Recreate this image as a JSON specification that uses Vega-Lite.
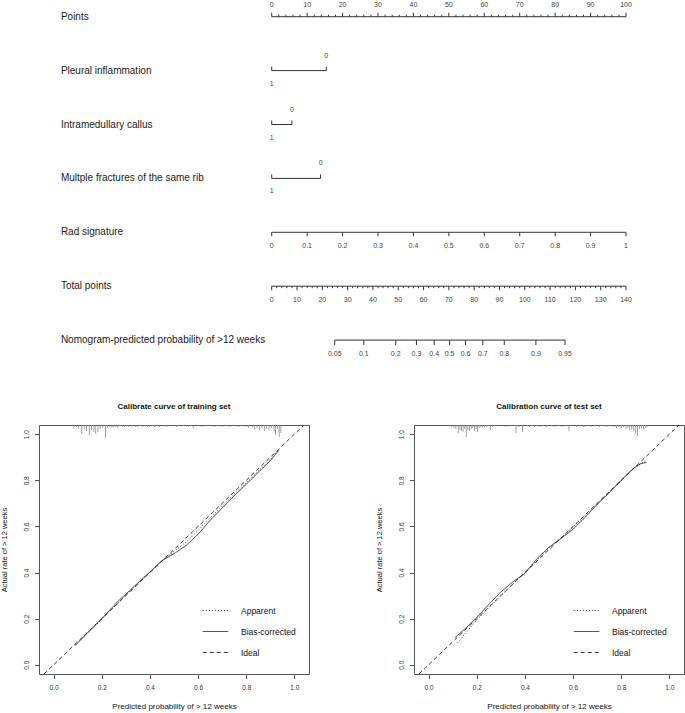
{
"$schema":"https://vega.github.io/schema/vega-lite/v6.json",
"padding":0,
"spacing":12,
"config":{"font":"Liberation Sans","view":{"stroke":null}},
"datasets":{
"rows":[{"row":0,"name":"Points"},{"row":1,"name":"Pleural inflammation"},{"row":2,"name":"Intramedullary callus"},{"row":3,"name":"Multple fractures of the same rib"},{"row":4,"name":"Rad signature"},{"row":5,"name":"Total points"},{"row":6,"name":"Nomogram-predicted probability of >12 weeks"}],
"pAxes":[{"row":0,"from":0,"to":100},{"row":1,"from":0,"to":15.4},{"row":2,"from":0,"to":5.7},{"row":3,"from":0,"to":13.8}],
"pMajor":[{"row":0,"v":0,"t":"0"},{"row":0,"v":10,"t":"10"},{"row":0,"v":20,"t":"20"},{"row":0,"v":30,"t":"30"},{"row":0,"v":40,"t":"40"},{"row":0,"v":50,"t":"50"},{"row":0,"v":60,"t":"60"},{"row":0,"v":70,"t":"70"},{"row":0,"v":80,"t":"80"},{"row":0,"v":90,"t":"90"},{"row":0,"v":100,"t":"100"}],
"pMinor":[{"row":0,"v":2},{"row":0,"v":4},{"row":0,"v":6},{"row":0,"v":8},{"row":0,"v":12},{"row":0,"v":14},{"row":0,"v":16},{"row":0,"v":18},{"row":0,"v":22},{"row":0,"v":24},{"row":0,"v":26},{"row":0,"v":28},{"row":0,"v":32},{"row":0,"v":34},{"row":0,"v":36},{"row":0,"v":38},{"row":0,"v":42},{"row":0,"v":44},{"row":0,"v":46},{"row":0,"v":48},{"row":0,"v":52},{"row":0,"v":54},{"row":0,"v":56},{"row":0,"v":58},{"row":0,"v":62},{"row":0,"v":64},{"row":0,"v":66},{"row":0,"v":68},{"row":0,"v":72},{"row":0,"v":74},{"row":0,"v":76},{"row":0,"v":78},{"row":0,"v":82},{"row":0,"v":84},{"row":0,"v":86},{"row":0,"v":88},{"row":0,"v":92},{"row":0,"v":94},{"row":0,"v":96},{"row":0,"v":98}],
"binary":[{"row":1,"v":15.4,"t":"0"},{"row":1,"v":0,"t":"1"},{"row":2,"v":5.7,"t":"0"},{"row":2,"v":0,"t":"1"},{"row":3,"v":13.8,"t":"0"},{"row":3,"v":0,"t":"1"}],
"radAxis":[{"row":4,"from":0,"to":1}],
"rad":[{"row":4,"v":0,"t":"0"},{"row":4,"v":0.1,"t":"0.1"},{"row":4,"v":0.2,"t":"0.2"},{"row":4,"v":0.3,"t":"0.3"},{"row":4,"v":0.4,"t":"0.4"},{"row":4,"v":0.5,"t":"0.5"},{"row":4,"v":0.6,"t":"0.6"},{"row":4,"v":0.7,"t":"0.7"},{"row":4,"v":0.8,"t":"0.8"},{"row":4,"v":0.9,"t":"0.9"},{"row":4,"v":1,"t":"1"}],
"tAxes":[{"row":5,"from":0,"to":140},{"row":6,"from":24.9,"to":115.9}],
"total":[{"row":5,"v":0,"t":"0"},{"row":5,"v":10,"t":"10"},{"row":5,"v":20,"t":"20"},{"row":5,"v":30,"t":"30"},{"row":5,"v":40,"t":"40"},{"row":5,"v":50,"t":"50"},{"row":5,"v":60,"t":"60"},{"row":5,"v":70,"t":"70"},{"row":5,"v":80,"t":"80"},{"row":5,"v":90,"t":"90"},{"row":5,"v":100,"t":"100"},{"row":5,"v":110,"t":"110"},{"row":5,"v":120,"t":"120"},{"row":5,"v":130,"t":"130"},{"row":5,"v":140,"t":"140"}],
"totalMinor":[{"row":5,"v":2},{"row":5,"v":4},{"row":5,"v":6},{"row":5,"v":8},{"row":5,"v":12},{"row":5,"v":14},{"row":5,"v":16},{"row":5,"v":18},{"row":5,"v":22},{"row":5,"v":24},{"row":5,"v":26},{"row":5,"v":28},{"row":5,"v":32},{"row":5,"v":34},{"row":5,"v":36},{"row":5,"v":38},{"row":5,"v":42},{"row":5,"v":44},{"row":5,"v":46},{"row":5,"v":48},{"row":5,"v":52},{"row":5,"v":54},{"row":5,"v":56},{"row":5,"v":58},{"row":5,"v":62},{"row":5,"v":64},{"row":5,"v":66},{"row":5,"v":68},{"row":5,"v":72},{"row":5,"v":74},{"row":5,"v":76},{"row":5,"v":78},{"row":5,"v":82},{"row":5,"v":84},{"row":5,"v":86},{"row":5,"v":88},{"row":5,"v":92},{"row":5,"v":94},{"row":5,"v":96},{"row":5,"v":98},{"row":5,"v":102},{"row":5,"v":104},{"row":5,"v":106},{"row":5,"v":108},{"row":5,"v":112},{"row":5,"v":114},{"row":5,"v":116},{"row":5,"v":118},{"row":5,"v":122},{"row":5,"v":124},{"row":5,"v":126},{"row":5,"v":128},{"row":5,"v":132},{"row":5,"v":134},{"row":5,"v":136},{"row":5,"v":138}],
"prob":[{"row":6,"v":24.9,"t":"0.05"},{"row":6,"v":36.4,"t":"0.1"},{"row":6,"v":49.0,"t":"0.2"},{"row":6,"v":57.2,"t":"0.3"},{"row":6,"v":64.2,"t":"0.4"},{"row":6,"v":70.3,"t":"0.5"},{"row":6,"v":76.6,"t":"0.6"},{"row":6,"v":83.4,"t":"0.7"},{"row":6,"v":91.9,"t":"0.8"},{"row":6,"v":104.4,"t":"0.9"},{"row":6,"v":115.9,"t":"0.95"}],
"trainCurve":[
{"series":"Apparent","p":0.09,"a":0.088},{"series":"Apparent","p":0.12,"a":0.118},{"series":"Apparent","p":0.15,"a":0.148},{"series":"Apparent","p":0.2,"a":0.198},{"series":"Apparent","p":0.25,"a":0.25},{"series":"Apparent","p":0.3,"a":0.302},{"series":"Apparent","p":0.35,"a":0.352},{"series":"Apparent","p":0.4,"a":0.403},{"series":"Apparent","p":0.45,"a":0.45},{"series":"Apparent","p":0.5,"a":0.492},{"series":"Apparent","p":0.55,"a":0.532},{"series":"Apparent","p":0.6,"a":0.583},{"series":"Apparent","p":0.65,"a":0.637},{"series":"Apparent","p":0.7,"a":0.688},{"series":"Apparent","p":0.75,"a":0.74},{"series":"Apparent","p":0.8,"a":0.79},{"series":"Apparent","p":0.85,"a":0.84},{"series":"Apparent","p":0.9,"a":0.89},{"series":"Apparent","p":0.935,"a":0.933},
{"series":"Bias-corrected","p":0.09,"a":0.084},{"series":"Bias-corrected","p":0.12,"a":0.116},{"series":"Bias-corrected","p":0.15,"a":0.148},{"series":"Bias-corrected","p":0.2,"a":0.2},{"series":"Bias-corrected","p":0.25,"a":0.256},{"series":"Bias-corrected","p":0.27,"a":0.278},{"series":"Bias-corrected","p":0.3,"a":0.306},{"series":"Bias-corrected","p":0.35,"a":0.355},{"series":"Bias-corrected","p":0.4,"a":0.402},{"series":"Bias-corrected","p":0.45,"a":0.452},{"series":"Bias-corrected","p":0.5,"a":0.482},{"series":"Bias-corrected","p":0.55,"a":0.517},{"series":"Bias-corrected","p":0.6,"a":0.566},{"series":"Bias-corrected","p":0.65,"a":0.626},{"series":"Bias-corrected","p":0.7,"a":0.68},{"series":"Bias-corrected","p":0.75,"a":0.733},{"series":"Bias-corrected","p":0.8,"a":0.783},{"series":"Bias-corrected","p":0.85,"a":0.834},{"series":"Bias-corrected","p":0.9,"a":0.885},{"series":"Bias-corrected","p":0.935,"a":0.93},
{"series":"Ideal","p":-0.04,"a":-0.04},{"series":"Ideal","p":1.04,"a":1.04}],
"testCurve":[
{"series":"Apparent","p":0.12,"a":0.095},{"series":"Apparent","p":0.15,"a":0.133},{"series":"Apparent","p":0.2,"a":0.195},{"series":"Apparent","p":0.25,"a":0.247},{"series":"Apparent","p":0.3,"a":0.3},{"series":"Apparent","p":0.35,"a":0.35},{"series":"Apparent","p":0.4,"a":0.4},{"series":"Apparent","p":0.45,"a":0.455},{"series":"Apparent","p":0.5,"a":0.505},{"series":"Apparent","p":0.55,"a":0.55},{"series":"Apparent","p":0.6,"a":0.598},{"series":"Apparent","p":0.65,"a":0.648},{"series":"Apparent","p":0.7,"a":0.7},{"series":"Apparent","p":0.75,"a":0.75},{"series":"Apparent","p":0.8,"a":0.8},{"series":"Apparent","p":0.85,"a":0.85},{"series":"Apparent","p":0.88,"a":0.872},{"series":"Apparent","p":0.9,"a":0.882},
{"series":"Bias-corrected","p":0.11,"a":0.118},{"series":"Bias-corrected","p":0.15,"a":0.155},{"series":"Bias-corrected","p":0.2,"a":0.205},{"series":"Bias-corrected","p":0.25,"a":0.262},{"series":"Bias-corrected","p":0.3,"a":0.316},{"series":"Bias-corrected","p":0.35,"a":0.36},{"series":"Bias-corrected","p":0.4,"a":0.396},{"series":"Bias-corrected","p":0.45,"a":0.46},{"series":"Bias-corrected","p":0.5,"a":0.51},{"series":"Bias-corrected","p":0.55,"a":0.548},{"series":"Bias-corrected","p":0.6,"a":0.588},{"series":"Bias-corrected","p":0.65,"a":0.64},{"series":"Bias-corrected","p":0.7,"a":0.695},{"series":"Bias-corrected","p":0.75,"a":0.746},{"series":"Bias-corrected","p":0.8,"a":0.8},{"series":"Bias-corrected","p":0.85,"a":0.852},{"series":"Bias-corrected","p":0.88,"a":0.872},{"series":"Bias-corrected","p":0.905,"a":0.878},
{"series":"Ideal","p":-0.04,"a":-0.04},{"series":"Ideal","p":1.04,"a":1.04}],
"trainRug":[{"p":0.084,"n":3},{"p":0.095,"n":2},{"p":0.104,"n":4},{"p":0.117,"n":9},{"p":0.127,"n":4},{"p":0.137,"n":6},{"p":0.148,"n":10},{"p":0.157,"n":5},{"p":0.167,"n":7},{"p":0.175,"n":9},{"p":0.184,"n":7},{"p":0.193,"n":4},{"p":0.204,"n":3},{"p":0.215,"n":13},{"p":0.224,"n":3},{"p":0.233,"n":2},{"p":0.242,"n":3},{"p":0.25,"n":2},{"p":0.258,"n":2},{"p":0.267,"n":3},{"p":0.276,"n":1},{"p":0.285,"n":2},{"p":0.294,"n":2},{"p":0.303,"n":1},{"p":0.312,"n":2},{"p":0.322,"n":2},{"p":0.33,"n":1},{"p":0.34,"n":2},{"p":0.35,"n":2},{"p":0.36,"n":1},{"p":0.37,"n":2},{"p":0.38,"n":1},{"p":0.39,"n":2},{"p":0.4,"n":2},{"p":0.41,"n":1},{"p":0.42,"n":2},{"p":0.43,"n":1},{"p":0.44,"n":2},{"p":0.46,"n":1},{"p":0.47,"n":2},{"p":0.48,"n":1},{"p":0.5,"n":1},{"p":0.51,"n":2},{"p":0.52,"n":1},{"p":0.54,"n":1},{"p":0.56,"n":2},{"p":0.57,"n":1},{"p":0.58,"n":3},{"p":0.6,"n":1},{"p":0.62,"n":2},{"p":0.63,"n":1},{"p":0.65,"n":1},{"p":0.67,"n":2},{"p":0.68,"n":1},{"p":0.7,"n":2},{"p":0.72,"n":1},{"p":0.73,"n":2},{"p":0.75,"n":1},{"p":0.77,"n":2},{"p":0.78,"n":1},{"p":0.8,"n":2},{"p":0.81,"n":3},{"p":0.825,"n":2},{"p":0.835,"n":4},{"p":0.845,"n":3},{"p":0.855,"n":5},{"p":0.865,"n":3},{"p":0.875,"n":6},{"p":0.885,"n":4},{"p":0.895,"n":5},{"p":0.905,"n":3},{"p":0.915,"n":6},{"p":0.922,"n":10},{"p":0.93,"n":4},{"p":0.937,"n":12},{"p":0.944,"n":8}],
"testRug":[{"p":0.096,"n":2},{"p":0.105,"n":3},{"p":0.113,"n":4},{"p":0.123,"n":8},{"p":0.13,"n":5},{"p":0.137,"n":6},{"p":0.143,"n":7},{"p":0.15,"n":4},{"p":0.156,"n":12},{"p":0.163,"n":5},{"p":0.17,"n":6},{"p":0.177,"n":4},{"p":0.183,"n":3},{"p":0.19,"n":6},{"p":0.197,"n":4},{"p":0.203,"n":7},{"p":0.21,"n":3},{"p":0.217,"n":2},{"p":0.225,"n":3},{"p":0.233,"n":2},{"p":0.24,"n":2},{"p":0.248,"n":1},{"p":0.256,"n":5},{"p":0.265,"n":2},{"p":0.273,"n":1},{"p":0.282,"n":1},{"p":0.3,"n":1},{"p":0.32,"n":2},{"p":0.34,"n":1},{"p":0.356,"n":1},{"p":0.363,"n":8},{"p":0.375,"n":2},{"p":0.39,"n":7},{"p":0.41,"n":1},{"p":0.42,"n":2},{"p":0.43,"n":1},{"p":0.44,"n":2},{"p":0.45,"n":1},{"p":0.463,"n":2},{"p":0.475,"n":1},{"p":0.49,"n":2},{"p":0.51,"n":1},{"p":0.525,"n":2},{"p":0.54,"n":1},{"p":0.555,"n":2},{"p":0.57,"n":1},{"p":0.583,"n":6},{"p":0.6,"n":1},{"p":0.615,"n":2},{"p":0.63,"n":1},{"p":0.645,"n":2},{"p":0.66,"n":1},{"p":0.675,"n":2},{"p":0.69,"n":1},{"p":0.71,"n":2},{"p":0.725,"n":1},{"p":0.74,"n":2},{"p":0.755,"n":1},{"p":0.77,"n":2},{"p":0.78,"n":3},{"p":0.79,"n":2},{"p":0.8,"n":3},{"p":0.81,"n":2},{"p":0.82,"n":4},{"p":0.828,"n":3},{"p":0.836,"n":5},{"p":0.844,"n":4},{"p":0.852,"n":6},{"p":0.86,"n":9},{"p":0.868,"n":11},{"p":0.876,"n":4},{"p":0.884,"n":3},{"p":0.893,"n":4},{"p":0.902,"n":3},{"p":0.91,"n":2}]
},
"vconcat":[
{
"width":646,"height":390,
"resolve":{"scale":{"x":"independent"}},
"layer":[
{"data":{"name":"rows"},"mark":{"type":"text","align":"left","baseline":"middle","fontSize":10,"color":"#1a1a1a"},
 "encoding":{"x":{"datum":-59.5,"type":"quantitative","scale":{"domain":[-65.68,116.65],"nice":false,"zero":false},"axis":null},
 "y":{"field":"row","type":"quantitative","scale":{"domain":[-0.31,6.926],"reverse":true,"nice":false,"zero":false},"axis":null},
 "text":{"field":"name"}}},
{"data":{"name":"pAxes"},"mark":{"type":"rule","color":"#333","strokeWidth":1},
 "encoding":{"x":{"field":"from","type":"quantitative","scale":{"domain":[-65.68,116.65],"nice":false,"zero":false},"axis":null},"x2":{"field":"to"},
 "y":{"field":"row","type":"quantitative","scale":{"domain":[-0.31,6.926],"reverse":true,"nice":false,"zero":false},"axis":null}}},
{"data":{"name":"pMajor"},"mark":{"type":"rule","color":"#333","strokeWidth":1,"y2Offset":-4},
 "encoding":{"x":{"field":"v","type":"quantitative","scale":{"domain":[-65.68,116.65],"nice":false,"zero":false},"axis":null},
 "y":{"field":"row","type":"quantitative","scale":{"domain":[-0.31,6.926],"reverse":true,"nice":false,"zero":false},"axis":null},"y2":{"field":"row"}}},
{"data":{"name":"pMinor"},"mark":{"type":"rule","color":"#333","strokeWidth":1,"y2Offset":-2},
 "encoding":{"x":{"field":"v","type":"quantitative","scale":{"domain":[-65.68,116.65],"nice":false,"zero":false},"axis":null},
 "y":{"field":"row","type":"quantitative","scale":{"domain":[-0.31,6.926],"reverse":true,"nice":false,"zero":false},"axis":null},"y2":{"field":"row"}}},
{"data":{"name":"pMajor"},"mark":{"type":"text","fontSize":7,"fill":"#444","baseline":"middle","dy":-12},
 "encoding":{"x":{"field":"v","type":"quantitative","scale":{"domain":[-65.68,116.65],"nice":false,"zero":false},"axis":null},
 "y":{"field":"row","type":"quantitative","scale":{"domain":[-0.31,6.926],"reverse":true,"nice":false,"zero":false},"axis":null},"text":{"field":"t"}}},
{"data":{"name":"binary"},"mark":{"type":"rule","color":"#333","strokeWidth":1,"y2Offset":-4},
 "encoding":{"x":{"field":"v","type":"quantitative","scale":{"domain":[-65.68,116.65],"nice":false,"zero":false},"axis":null},
 "y":{"field":"row","type":"quantitative","scale":{"domain":[-0.31,6.926],"reverse":true,"nice":false,"zero":false},"axis":null},"y2":{"field":"row"}}},
{"data":{"name":"binary"},"transform":[{"filter":"datum.t == '0'"}],"mark":{"type":"text","fontSize":7,"fill":"#444","baseline":"middle","dy":-15},
 "encoding":{"x":{"field":"v","type":"quantitative","scale":{"domain":[-65.68,116.65],"nice":false,"zero":false},"axis":null},
 "y":{"field":"row","type":"quantitative","scale":{"domain":[-0.31,6.926],"reverse":true,"nice":false,"zero":false},"axis":null},"text":{"field":"t"}}},
{"data":{"name":"binary"},"transform":[{"filter":"datum.t == '1'"}],"mark":{"type":"text","fontSize":7,"fill":"#444","baseline":"middle","dy":13},
 "encoding":{"x":{"field":"v","type":"quantitative","scale":{"domain":[-65.68,116.65],"nice":false,"zero":false},"axis":null},
 "y":{"field":"row","type":"quantitative","scale":{"domain":[-0.31,6.926],"reverse":true,"nice":false,"zero":false},"axis":null},"text":{"field":"t"}}},
{"data":{"name":"radAxis"},"mark":{"type":"rule","color":"#333","strokeWidth":1},
 "encoding":{"x":{"field":"from","type":"quantitative","scale":{"domain":[-0.6568,1.1665],"nice":false,"zero":false},"axis":null},"x2":{"field":"to"},
 "y":{"field":"row","type":"quantitative","scale":{"domain":[-0.31,6.926],"reverse":true,"nice":false,"zero":false},"axis":null}}},
{"data":{"name":"rad"},"mark":{"type":"rule","color":"#333","strokeWidth":1,"y2Offset":4},
 "encoding":{"x":{"field":"v","type":"quantitative","scale":{"domain":[-0.6568,1.1665],"nice":false,"zero":false},"axis":null},
 "y":{"field":"row","type":"quantitative","scale":{"domain":[-0.31,6.926],"reverse":true,"nice":false,"zero":false},"axis":null},"y2":{"field":"row"}}},
{"data":{"name":"rad"},"mark":{"type":"text","fontSize":7,"fill":"#444","baseline":"middle","dy":14},
 "encoding":{"x":{"field":"v","type":"quantitative","scale":{"domain":[-0.6568,1.1665],"nice":false,"zero":false},"axis":null},
 "y":{"field":"row","type":"quantitative","scale":{"domain":[-0.31,6.926],"reverse":true,"nice":false,"zero":false},"axis":null},"text":{"field":"t"}}},
{"data":{"name":"tAxes"},"mark":{"type":"rule","color":"#333","strokeWidth":1},
 "encoding":{"x":{"field":"from","type":"quantitative","scale":{"domain":[-91.95,163.31],"nice":false,"zero":false},"axis":null},"x2":{"field":"to"},
 "y":{"field":"row","type":"quantitative","scale":{"domain":[-0.31,6.926],"reverse":true,"nice":false,"zero":false},"axis":null}}},
{"data":{"name":"total"},"mark":{"type":"rule","color":"#333","strokeWidth":1,"y2Offset":4},
 "encoding":{"x":{"field":"v","type":"quantitative","scale":{"domain":[-91.95,163.31],"nice":false,"zero":false},"axis":null},
 "y":{"field":"row","type":"quantitative","scale":{"domain":[-0.31,6.926],"reverse":true,"nice":false,"zero":false},"axis":null},"y2":{"field":"row"}}},
{"data":{"name":"totalMinor"},"mark":{"type":"rule","color":"#333","strokeWidth":1,"y2Offset":2},
 "encoding":{"x":{"field":"v","type":"quantitative","scale":{"domain":[-91.95,163.31],"nice":false,"zero":false},"axis":null},
 "y":{"field":"row","type":"quantitative","scale":{"domain":[-0.31,6.926],"reverse":true,"nice":false,"zero":false},"axis":null},"y2":{"field":"row"}}},
{"data":{"name":"total"},"mark":{"type":"text","fontSize":7,"fill":"#444","baseline":"middle","dy":14},
 "encoding":{"x":{"field":"v","type":"quantitative","scale":{"domain":[-91.95,163.31],"nice":false,"zero":false},"axis":null},
 "y":{"field":"row","type":"quantitative","scale":{"domain":[-0.31,6.926],"reverse":true,"nice":false,"zero":false},"axis":null},"text":{"field":"t"}}},
{"data":{"name":"prob"},"mark":{"type":"rule","color":"#333","strokeWidth":1,"y2Offset":5},
 "encoding":{"x":{"field":"v","type":"quantitative","scale":{"domain":[-91.95,163.31],"nice":false,"zero":false},"axis":null},
 "y":{"field":"row","type":"quantitative","scale":{"domain":[-0.31,6.926],"reverse":true,"nice":false,"zero":false},"axis":null},"y2":{"field":"row"}}},
{"data":{"name":"prob"},"mark":{"type":"text","fontSize":7,"fill":"#444","baseline":"middle","dy":14},
 "encoding":{"x":{"field":"v","type":"quantitative","scale":{"domain":[-91.95,163.31],"nice":false,"zero":false},"axis":null},
 "y":{"field":"row","type":"quantitative","scale":{"domain":[-0.31,6.926],"reverse":true,"nice":false,"zero":false},"axis":null},"text":{"field":"t"}}}
]
},
{
"hconcat":[
{
"width":270,"height":249,
"view":{"stroke":"#555","strokeWidth":1},
"title":{"text":"Calibrate curve of training set","fontSize":8,"fontWeight":"bold","offset":12,"color":"#111"},
"resolve":{"scale":{"y":"independent"}},
"layer":[
{"data":{"name":"trainCurve"},"mark":{"type":"line","color":"#222","strokeWidth":0.9},
 "encoding":{
 "x":{"field":"p","type":"quantitative","scale":{"domain":[-0.04,1.04],"nice":false,"zero":false},"axis":{"values":[0,0.2,0.4,0.6,0.8,1],"format":".1f","title":"Predicted probability of > 12 weeks","titleFontSize":8,"titleFontWeight":"normal","titlePadding":11,"titleColor":"#111","labelFontSize":6.5,"labelColor":"#333","labelPadding":6,"tickSize":4.5,"tickColor":"#555","domain":false,"grid":false,"labelFlush":false}},
 "y":{"field":"a","type":"quantitative","scale":{"domain":[-0.04,1.04],"nice":false,"zero":false},"axis":{"values":[0,0.2,0.4,0.6,0.8,1],"format":".1f","title":"Actual rate of > 12 weeks","titleFontSize":7.5,"titleFontWeight":"normal","titlePadding":15,"titleColor":"#111","labelFontSize":6.5,"labelColor":"#333","labelAngle":270,"labelAlign":"center","labelBaseline":"bottom","labelPadding":5,"tickSize":4.5,"tickColor":"#555","domain":false,"grid":false,"labelFlush":false}},
 "strokeDash":{"field":"series","type":"nominal","scale":{"domain":["Apparent","Bias-corrected","Ideal"],"range":[[1,2],[1,0],[4,3]]},
  "legend":{"orient":"none","legendX":163,"legendY":172,"title":null,"symbolType":"stroke","symbolSize":650,"symbolStrokeWidth":0.9,"symbolStrokeColor":"#222","labelFontSize":8.5,"labelColor":"#111","labelOffset":12,"rowPadding":3,"padding":0}}}},
{"data":{"name":"trainRug"},"mark":{"type":"bar","color":"#888","width":0.8},
 "encoding":{"x":{"field":"p","type":"quantitative"},"y":{"field":"n","type":"quantitative","stack":null,"scale":{"domain":[0,30],"range":[0,30]},"axis":null}}}
]
},
{
"width":270,"height":249,
"view":{"stroke":"#555","strokeWidth":1},
"title":{"text":"Calibration curve of test set","fontSize":8,"fontWeight":"bold","offset":12,"color":"#111"},
"resolve":{"scale":{"y":"independent"}},
"layer":[
{"data":{"name":"testCurve"},"mark":{"type":"line","color":"#222","strokeWidth":0.9},
 "encoding":{
 "x":{"field":"p","type":"quantitative","scale":{"domain":[-0.04,1.04],"nice":false,"zero":false},"axis":{"values":[0,0.2,0.4,0.6,0.8,1],"format":".1f","title":"Predicted probability of > 12 weeks","titleFontSize":8,"titleFontWeight":"normal","titlePadding":11,"titleColor":"#111","labelFontSize":6.5,"labelColor":"#333","labelPadding":6,"tickSize":4.5,"tickColor":"#555","domain":false,"grid":false,"labelFlush":false}},
 "y":{"field":"a","type":"quantitative","scale":{"domain":[-0.04,1.04],"nice":false,"zero":false},"axis":{"values":[0,0.2,0.4,0.6,0.8,1],"format":".1f","title":"Actual rate of > 12 weeks","titleFontSize":7.5,"titleFontWeight":"normal","titlePadding":15,"titleColor":"#111","labelFontSize":6.5,"labelColor":"#333","labelAngle":270,"labelAlign":"center","labelBaseline":"bottom","labelPadding":5,"tickSize":4.5,"tickColor":"#555","domain":false,"grid":false,"labelFlush":false}},
 "strokeDash":{"field":"series","type":"nominal","scale":{"domain":["Apparent","Bias-corrected","Ideal"],"range":[[1,2],[1,0],[4,3]]},
  "legend":{"orient":"none","legendX":159,"legendY":172,"title":null,"symbolType":"stroke","symbolSize":650,"symbolStrokeWidth":0.9,"symbolStrokeColor":"#222","labelFontSize":8.5,"labelColor":"#111","labelOffset":12,"rowPadding":3,"padding":0}}}},
{"data":{"name":"testRug"},"mark":{"type":"bar","color":"#888","width":0.8},
 "encoding":{"x":{"field":"p","type":"quantitative"},"y":{"field":"n","type":"quantitative","stack":null,"scale":{"domain":[0,30],"range":[0,30]},"axis":null}}}
]
}
],
"spacing":65,
"resolve":{"legend":{"strokeDash":"independent"},"scale":{"strokeDash":"independent"}}
}
]
}
